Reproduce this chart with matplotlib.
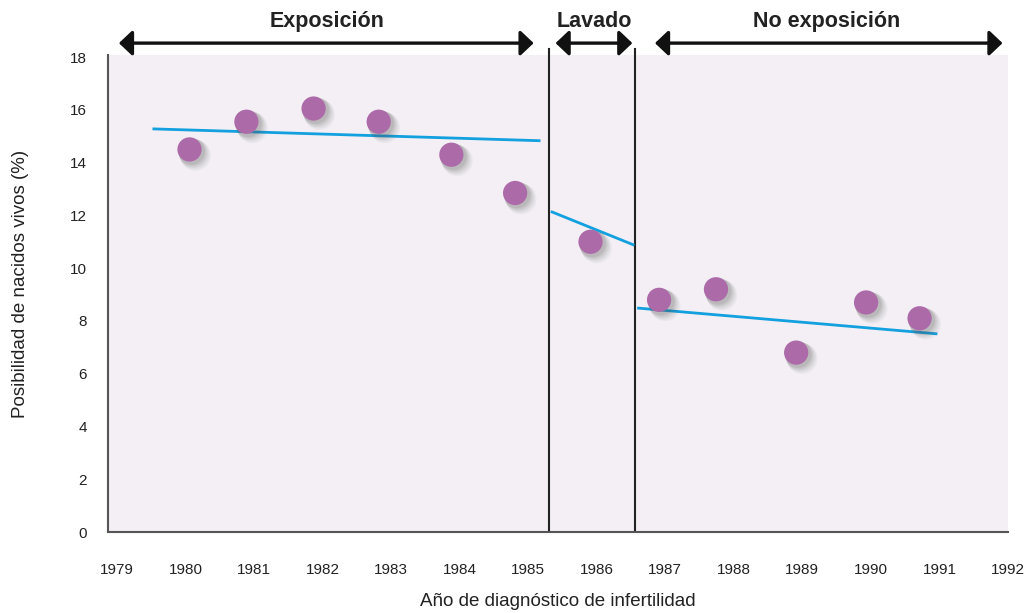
import matplotlib.pyplot as plt
import matplotlib.transforms as mtransforms

# --- Data ---
YEARS = [1980.06, 1980.89, 1981.87, 1982.82, 1983.88, 1984.81,
         1985.91, 1986.91, 1987.74, 1988.91, 1989.93, 1990.71]
LIVE_BIRTH_PCT = [14.5, 15.55, 16.05, 15.55, 14.3, 12.85,
                  11.0, 8.8, 9.2, 6.8, 8.7, 8.1]

# trend segments: (x start, x end), (y start, y end)
TREND_X = [(1979.52, 1985.18), (1985.33, 1986.55), (1986.59, 1990.97)]
TREND_Y = [(15.28, 14.83), (12.15, 10.87), (8.49, 7.51)]

# period separators and header arrows
SPLIT_YEARS = [1985.31, 1986.56]
PERIOD_NAMES = ["Exposición", "Lavado", "No exposición"]
PERIOD_SPANS = [(1979.03, 1985.08), (1985.40, 1986.52), (1986.85, 1991.92)]
PERIOD_LABEL_X = [1982.06, 1985.97, 1989.36]

X_TICKS = list(range(1979, 1993))
Y_TICKS = list(range(0, 19, 2))

# --- Style ---
BG_COLOR = '#F3EFF5'
DOT_COLOR = '#AC6AA8'
LINE_COLOR = '#13A0DE'
SPINE_COLOR = '#555555'

plt.rcParams['font.family'] = ['Liberation Sans', 'DejaVu Sans']

fig = plt.figure(figsize=(10.33, 6.13), dpi=100)
ax = fig.add_axes([0.1045, 0.1321, 0.8713, 0.7782])
ax.set_facecolor(BG_COLOR)
ax.set_xlim(1978.87, 1991.93)
ax.set_ylim(0.08, 18.08)

for side in ['top', 'right']:
    ax.spines[side].set_visible(False)
for side in ['left', 'bottom']:
    ax.spines[side].set_color(SPINE_COLOR)
    ax.spines[side].set_linewidth(1.5)

ax.set_xticks(X_TICKS)
ax.set_yticks(Y_TICKS)
ax.tick_params(axis='both', length=0, labelsize=11, colors='#222222')
ax.tick_params(axis='x', pad=22)
ax.tick_params(axis='y', pad=15)

ax.set_xlabel('Año de diagnóstico de infertilidad', fontsize=13.5, labelpad=12, color='#222222')
ax.set_ylabel('Posibilidad de nacidos vivos (%)', fontsize=13.5, color='#222222')
ax.yaxis.set_label_coords(-0.088, 0.52)

# separators between periods
for xs in SPLIT_YEARS:
    ax.plot([xs, xs], [0.08, 18.3], color='#222222', lw=1.5, clip_on=False, zorder=3)

# trend lines
for (x0, x1), (y0, y1) in zip(TREND_X, TREND_Y):
    ax.plot([x0, x1], [y0, y1], color=LINE_COLOR, lw=2, zorder=4, solid_capstyle='butt')

# dots with a soft drop shadow
for k, alpha in [(6, 0.05), (5, 0.06), (4, 0.08), (3, 0.10), (2, 0.12)]:
    shadow = mtransforms.offset_copy(ax.transData, fig=fig, x=k, y=-k, units='dots')
    ax.scatter(YEARS, LIVE_BIRTH_PCT, s=310 + 30 * k, color='#555555', alpha=alpha,
               edgecolors='none', transform=shadow, zorder=5)
ax.scatter(YEARS, LIVE_BIRTH_PCT, s=305, color=DOT_COLOR, edgecolors='none', zorder=6)

# header arrows and labels
for name, (xa, xb), xt in zip(PERIOD_NAMES, PERIOD_SPANS, PERIOD_LABEL_X):
    ax.annotate('', xy=(xa, 18.53), xytext=(xb, 18.53),
                arrowprops=dict(arrowstyle='<|-|>,head_length=0.4,head_width=0.38',
                                color='#111111', lw=2.4, mutation_scale=20,
                                shrinkA=0, shrinkB=0),
                annotation_clip=False)
    ax.text(xt, 19.36, name, ha='center', va='center', fontsize=15.5,
            fontweight='bold', color='#222222', clip_on=False)

fig.savefig('out.png', dpi=100)
